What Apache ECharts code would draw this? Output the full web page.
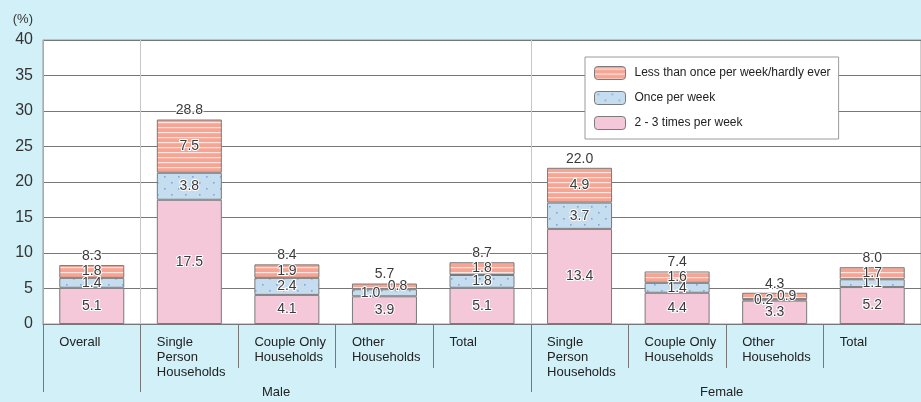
<!DOCTYPE html>
<html>
<head>
<meta charset="utf-8">
<script src="https://cdn.jsdelivr.net/npm/echarts@6/dist/echarts.min.js"></script>
<style>
html, body { margin: 0; padding: 0; background: #d2f0f8; }
#chart { width: 921px; height: 402px; }
</style>
</head>
<body>
<div id="chart"></div>
<script>
// categories (bottom row of labels)
var categories = ['Overall', 'Single\nPerson\nHouseholds', 'Couple Only\nHouseholds', 'Other\nHouseholds', 'Total',
  'Single\nPerson\nHouseholds', 'Couple Only\nHouseholds', 'Other\nHouseholds', 'Total']
var groupLabels = ['Male', 'Female']
var seriesNames = ['2 - 3 times per week', 'Once per week', 'Less than once per week/hardly ever']
var twoThree = [5.1, 17.5, 4.1, 3.9, 5.1, 13.4, 4.4, 3.3, 5.2]
var oncePerWeek = [1.4, 3.8, 2.4, 1.0, 1.8, 3.7, 1.4, 0.2, 1.1]
var lessThanOnce = [1.8, 7.5, 1.9, 0.8, 1.8, 4.9, 1.6, 0.9, 1.7]
var totals = [8.3, 28.8, 8.4, 5.7, 8.7, 22.0, 7.4, 4.3, 8.0]
var yTicks = [0, 5, 10, 15, 20, 25, 30, 35, 40]

// label nudges for the thin segments (index -> [dx, dy])
var labelOffsets = {
  1: { 3: [-14, 0], 7: [-11, 0] },
  2: { 3: [13, 0], 7: [12, 0] }
}

function stripePattern () {
  var c = document.createElement('canvas')
  c.width = 8
  c.height = 5
  var ctx = c.getContext('2d')
  ctx.fillStyle = '#f6a594'
  ctx.fillRect(0, 0, 8, 5)
  ctx.fillStyle = '#fde4de'
  ctx.fillRect(0, 2, 8, 1.2)
  return { image: c, repeat: 'repeat' }
}
function dotPattern () {
  var c = document.createElement('canvas')
  c.width = 14
  c.height = 12
  var ctx = c.getContext('2d')
  ctx.fillStyle = '#c6ddef'
  ctx.fillRect(0, 0, 14, 12)
  ctx.fillStyle = '#7fa9d8'
  ctx.fillRect(3, 2, 1.6, 1.6)
  ctx.fillRect(10, 8, 1.6, 1.6)
  return { image: c, repeat: 'repeat' }
}

const fillColors = ['#f4c8d9', dotPattern(), stripePattern()]
const valueSets = [twoThree, oncePerWeek, lessThanOnce]
const font = '"Liberation Sans", Arial, sans-serif'

const series = valueSets.map(function (vals, s) {
  return {
    name: seriesNames[s],
    type: 'bar',
    stack: 'freq',
    barWidth: 65,
    itemStyle: { color: fillColors[s], borderColor: '#7a7a7a', borderWidth: 1 },
    label: {
      show: true,
      position: 'inside',
      fontSize: 14,
      fontFamily: font,
      color: '#3a3a3a',
      textBorderColor: '#fff',
      textBorderWidth: 2,
      formatter: function (p) { return p.value.toFixed(1) }
    },
    data: vals.map(function (v, i) {
      const off = labelOffsets[s] && labelOffsets[s][i]
      return off ? { value: v, label: { offset: off } } : v
    })
  }
})

series.push({
  name: 'total',
  type: 'bar',
  barWidth: 65,
  barGap: '-100%',
  silent: true,
  z: 1,
  itemStyle: { color: 'rgba(0,0,0,0)' },
  label: {
    show: true,
    position: 'top',
    distance: 2,
    fontSize: 14,
    fontFamily: font,
    color: '#3a3a3a',
    textBorderColor: '#fff',
    textBorderWidth: 2,
    formatter: function (p) { return p.value.toFixed(1) }
  },
  data: totals
})

const myChart = echarts.init(document.getElementById('chart'))
const option = {
  backgroundColor: '#d2f0f8',
  animation: false,
  textStyle: { fontFamily: font },
  grid: {
    left: 43,
    top: 40,
    width: 880,
    height: 284,
    show: true,
    backgroundColor: '#fff',
    borderColor: '#9a9a9a',
    borderWidth: 1
  },
  legend: {
    data: [seriesNames[2], seriesNames[1], seriesNames[0]],
    orient: 'vertical',
    left: 585,
    top: 57,
    backgroundColor: '#fff',
    borderColor: '#9a9a9a',
    borderWidth: 1,
    padding: [9, 8, 9, 9],
    itemWidth: 31,
    itemHeight: 13,
    itemGap: 11,
    itemStyle: { borderColor: '#7a7a7a', borderWidth: 1 },
    textStyle: { fontSize: 12, color: '#222', fontFamily: font, padding: [0, 0, 0, 4] }
  },
  xAxis: [{
    type: 'category',
    data: categories,
    axisLine: { show: true, lineStyle: { color: '#777' } },
    axisTick: { show: true, interval: 0, length: 44, lineStyle: { color: '#777' } },
    splitLine: {
      show: true,
      interval: function (i) { return i === 1 || i === 5 },
      lineStyle: { color: '#c8c8c8' }
    },
    axisLabel: {
      interval: 0,
      margin: 11,
      formatter: function (v) {
        return v.split('\n').map(function (t) { return '{a|' + t + '}' }).join('\n')
      },
      rich: {
        a: { width: 65, align: 'left', fontSize: 13, lineHeight: 15, color: '#222', fontFamily: font }
      }
    }
  }, {
    type: 'category',
    data: categories,
    position: 'bottom',
    axisLine: { show: false },
    axisLabel: { show: false },
    axisTick: {
      show: true,
      interval: function (i) { return i === 0 || i === 1 || i === 5 },
      length: 68,
      lineStyle: { color: '#777' }
    }
  }],
  yAxis: {
    type: 'value',
    min: 0,
    max: 40,
    interval: 5,
    name: '(%)',
    nameGap: 14,
    nameTextStyle: { fontSize: 13, color: '#333', align: 'right', padding: [0, 10, 0, 0] },
    axisLine: { show: true, lineStyle: { color: '#aaa' } },
    axisTick: { show: false },
    axisLabel: {
      fontSize: 16,
      color: '#333',
      margin: 10,
      formatter: function (v) { return yTicks.indexOf(v) >= 0 ? String(v) : '' }
    },
    splitLine: { lineStyle: { color: '#777' } }
  },
  graphic: [
    { type: 'text', left: 262, top: 386, style: { text: groupLabels[0], fontSize: 13, fill: '#222', fontFamily: font } },
    { type: 'text', left: 700, top: 386, style: { text: groupLabels[1], fontSize: 13, fill: '#222', fontFamily: font } }
  ],
  series: series
}
myChart.setOption(option)
</script>
</body>
</html>
